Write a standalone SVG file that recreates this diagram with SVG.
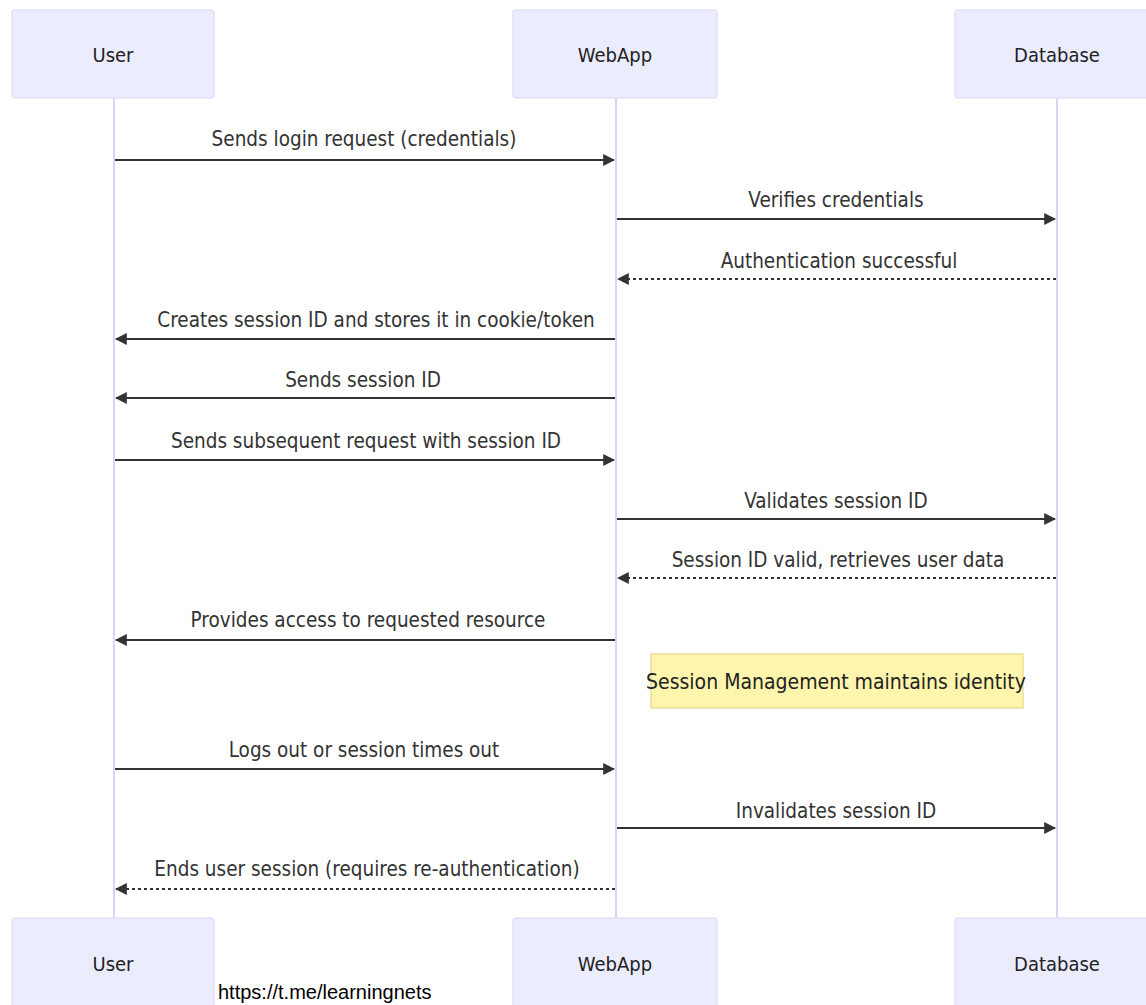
<svg xmlns="http://www.w3.org/2000/svg" width="1146" height="1005" viewBox="0 0 1146 1005">
<style>
.actor{fill:#ECECFF;stroke:#E3E0FB;stroke-width:1.5}
.atext{font-family:"DejaVu Sans Condensed","DejaVu Sans",sans-serif;font-size:20px;fill:#222;text-anchor:middle;dominant-baseline:central}
.life{stroke:#D9D5F7;stroke-width:2}
.msg{stroke:#333;stroke-width:2;fill:none}
.dot{stroke-dasharray:3,3}
.mtext{font-family:"DejaVu Sans Condensed","DejaVu Sans",sans-serif;font-size:20.5px;fill:#333;text-anchor:middle}
.note{fill:#FFF5AD;stroke:#E6DF9A;stroke-width:1.5}
.ntext{font-family:"DejaVu Sans Condensed","DejaVu Sans",sans-serif;font-size:21px;fill:#222;text-anchor:middle;dominant-baseline:central}
</style>
<defs>
<marker id="ah" viewBox="0 0 10 10" refX="9" refY="5" markerWidth="12" markerHeight="12" markerUnits="userSpaceOnUse" orient="auto">
<path d="M0,0 L10,5 L0,10 z" fill="#333"/>
</marker>
</defs>
<rect width="1146" height="1005" fill="#fff"/>
<g id="lifelines">
<line class="life" x1="114" y1="98" x2="114" y2="918"/>
<line class="life" x1="616" y1="98" x2="616" y2="918"/>
<line class="life" x1="1057" y1="98" x2="1057" y2="918"/>
</g>
<g id="actor-user-top"><rect class="actor" x="12" y="10" width="202" height="88" rx="3"/><text class="atext" x="113" y="55">User</text></g>
<g id="actor-webapp-top"><rect class="actor" x="513" y="10" width="204" height="88" rx="3"/><text class="atext" x="615" y="55">WebApp</text></g>
<g id="actor-db-top"><rect class="actor" x="955" y="10" width="195" height="88" rx="3"/><text class="atext" x="1057" y="55">Database</text></g>
<g id="actor-user-bottom"><rect class="actor" x="12" y="918" width="202" height="95" rx="3"/><text class="atext" x="113" y="964">User</text></g>
<g id="actor-webapp-bottom"><rect class="actor" x="513" y="918" width="204" height="95" rx="3"/><text class="atext" x="615" y="964">WebApp</text></g>
<g id="actor-db-bottom"><rect class="actor" x="955" y="918" width="195" height="95" rx="3"/><text class="atext" x="1057" y="964">Database</text></g>
<g id="connectors">
<line class="msg" x1="115" y1="160" x2="614" y2="160" marker-end="url(#ah)"/>
<line class="msg" x1="617" y1="219" x2="1055" y2="219" marker-end="url(#ah)"/>
<line class="msg dot" x1="1056" y1="279" x2="618" y2="279" marker-end="url(#ah)"/>
<line class="msg" x1="615" y1="339" x2="116" y2="339" marker-end="url(#ah)"/>
<line class="msg" x1="615" y1="398" x2="116" y2="398" marker-end="url(#ah)"/>
<line class="msg" x1="115" y1="460" x2="614" y2="460" marker-end="url(#ah)"/>
<line class="msg" x1="617" y1="519" x2="1055" y2="519" marker-end="url(#ah)"/>
<line class="msg dot" x1="1056" y1="578" x2="618" y2="578" marker-end="url(#ah)"/>
<line class="msg" x1="615" y1="640" x2="116" y2="640" marker-end="url(#ah)"/>
<line class="msg" x1="115" y1="769" x2="614" y2="769" marker-end="url(#ah)"/>
<line class="msg" x1="617" y1="828" x2="1055" y2="828" marker-end="url(#ah)"/>
<line class="msg dot" x1="615" y1="889" x2="116" y2="889" marker-end="url(#ah)"/>
</g>
<g id="labels">
<text class="mtext" x="364" y="146">Sends login request (credentials)</text>
<text class="mtext" x="836" y="207">Verifies credentials</text>
<text class="mtext" x="839" y="268">Authentication successful</text>
<text class="mtext" x="376" y="327">Creates session ID and stores it in cookie/token</text>
<text class="mtext" x="363" y="387">Sends session ID</text>
<text class="mtext" x="366" y="448">Sends subsequent request with session ID</text>
<text class="mtext" x="836" y="508">Validates session ID</text>
<text class="mtext" x="838" y="567">Session ID valid, retrieves user data</text>
<text class="mtext" x="368" y="627">Provides access to requested resource</text>
<text class="mtext" x="364" y="757">Logs out or session times out</text>
<text class="mtext" x="836" y="818">Invalidates session ID</text>
<text class="mtext" x="367" y="876">Ends user session (requires re-authentication)</text>
</g>
<g id="note"><rect class="note" x="651" y="654" width="372" height="54"/><text class="ntext" x="836" y="682">Session Management maintains identity</text></g>
<text x="218" y="999" font-family="Liberation Sans, Arial, sans-serif" font-size="20" fill="#000">https://t.me/learningnets</text>
</svg>
